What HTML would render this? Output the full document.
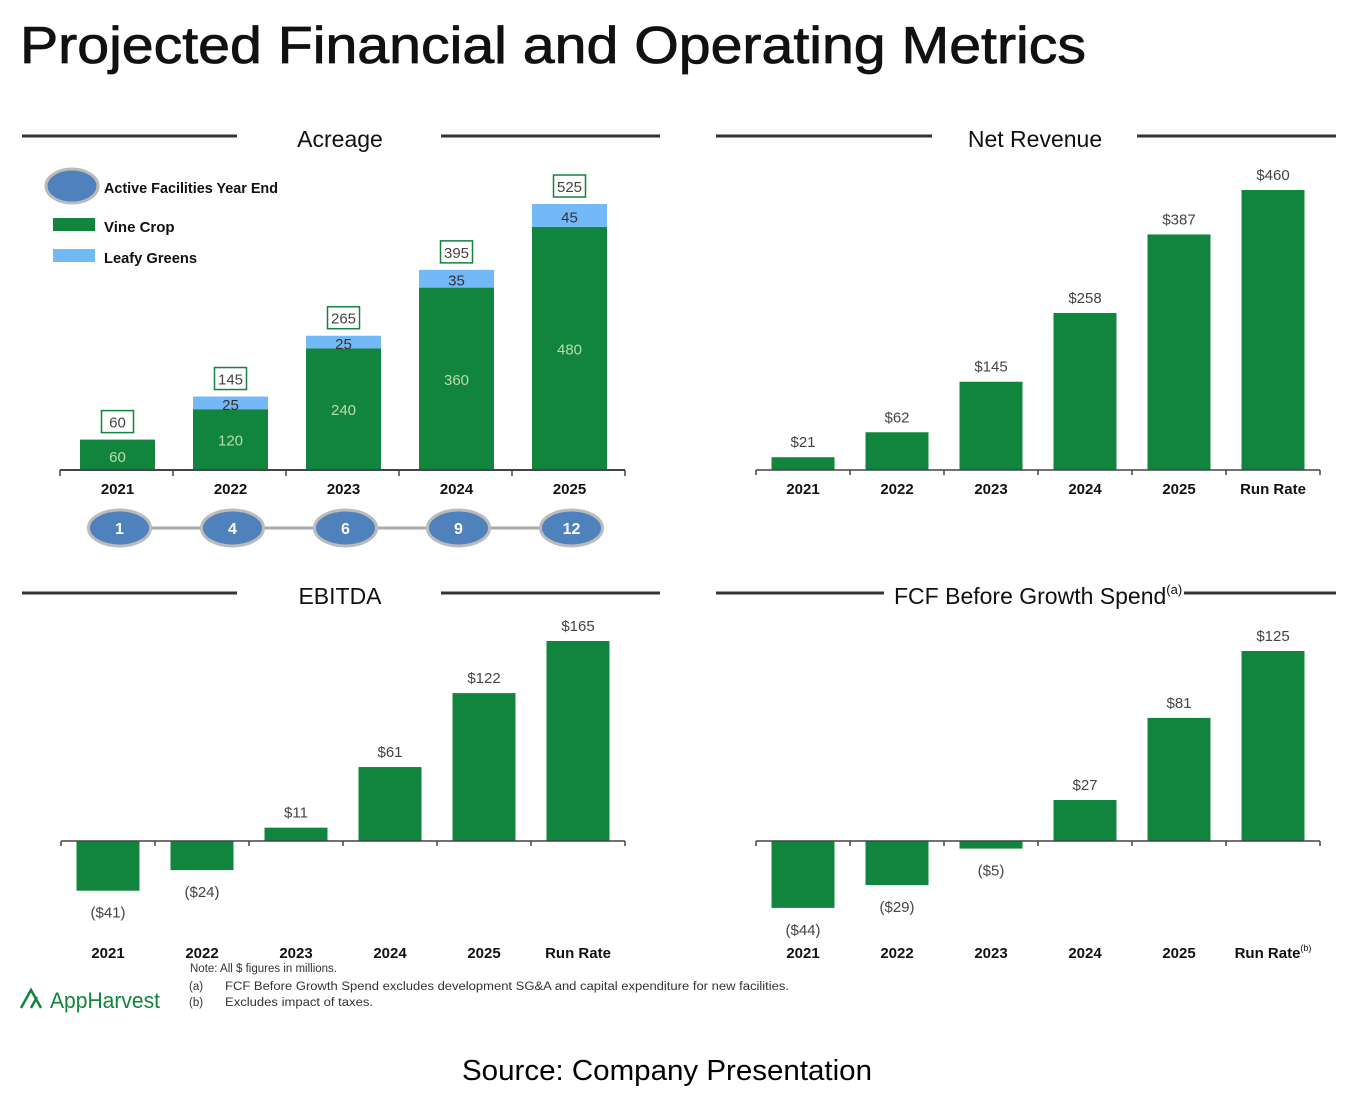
<!DOCTYPE html>
<html><head><meta charset="utf-8"><style>
html,body{margin:0;padding:0;background:#fff;}
svg{display:block;font-family:"Liberation Sans",sans-serif;}
</style></head><body>
<svg id="s" width="1358" height="1100" viewBox="0 0 1358 1100">
<text x="20" y="63" font-size="52" fill="#111" stroke="#111" stroke-width="0.8" textLength="1066" lengthAdjust="spacingAndGlyphs">Projected Financial and Operating Metrics</text>
<g>
<line x1="22" y1="136" x2="237" y2="136" stroke="#333" stroke-width="3"/><line x1="441" y1="136" x2="660" y2="136" stroke="#333" stroke-width="3"/>
<text x="340" y="147" font-size="23" text-anchor="middle" fill="#111">Acreage</text></g>
<g>
<line x1="716" y1="136" x2="932" y2="136" stroke="#333" stroke-width="3"/><line x1="1137" y1="136" x2="1336" y2="136" stroke="#333" stroke-width="3"/>
<text x="1035" y="147" font-size="23" text-anchor="middle" fill="#111">Net Revenue</text></g>
<g>
<line x1="22" y1="593" x2="237" y2="593" stroke="#333" stroke-width="3"/><line x1="441" y1="593" x2="660" y2="593" stroke="#333" stroke-width="3"/>
<text x="340" y="604" font-size="23" text-anchor="middle" fill="#111">EBITDA</text></g>
<g>
<line x1="716" y1="593" x2="884" y2="593" stroke="#333" stroke-width="3"/><line x1="1184" y1="593" x2="1336" y2="593" stroke="#333" stroke-width="3"/>
<text x="894" y="604" font-size="23" fill="#111">FCF Before Growth Spend<tspan font-size="13" dy="-10">(a)</tspan></text></g>
<g>
<ellipse cx="72" cy="186" rx="26" ry="17" fill="#4f81bd" stroke="#bbb" stroke-width="3"/>
<text x="104" y="193" font-size="15" font-weight="bold" fill="#111" textLength="174" lengthAdjust="spacingAndGlyphs">Active Facilities Year End</text>
<rect x="53" y="218" width="42" height="13" fill="#11843e"/>
<text x="104" y="232" font-size="15" font-weight="bold" fill="#111">Vine Crop</text>
<rect x="53" y="249" width="42" height="13" fill="#74b9f7"/>
<text x="104" y="263" font-size="15" font-weight="bold" fill="#111" textLength="93" lengthAdjust="spacingAndGlyphs">Leafy Greens</text></g>
<g id="charts"></g>
<g font-size="11.5" fill="#333">
<text x="190" y="972">Note: All $ figures in millions.</text>
<text x="189" y="990">(a)</text><text x="225" y="990" textLength="564" lengthAdjust="spacingAndGlyphs">FCF Before Growth Spend excludes development SG&amp;A and capital expenditure for new facilities.</text>
<text x="189" y="1006">(b)</text><text x="225" y="1006" textLength="148" lengthAdjust="spacingAndGlyphs">Excludes impact of taxes.</text></g>
<g>
<path d="M21 1008 L31 990 L41 1008 M31 1008 L37 997" stroke="#11843e" stroke-width="2.5" fill="none"/>
<text x="50" y="1008" font-size="22" fill="#11843e" textLength="110" lengthAdjust="spacingAndGlyphs">AppHarvest</text></g>
<text x="667" y="1080" font-size="29" text-anchor="middle" fill="#000" textLength="410" lengthAdjust="spacingAndGlyphs">Source: Company Presentation</text>
</svg>
<script>
const acreYears=["2021","2022","2023","2024","2025"];
const vineCrop=[60,120,240,360,480];
const leafyGreens=[0,25,25,35,45];
const acreTotals=[60,145,265,395,525];
const facilities=[1,4,6,9,12];
const finCats=["2021","2022","2023","2024","2025","Run Rate"];
const netRevenue=[21,62,145,258,387,460];
const ebitda=[-41,-24,11,61,122,165];
const fcf=[-44,-29,-5,27,81,125];
const netLabels=["$21","$62","$145","$258","$387","$460"];
const ebitdaLabels=["($41)","($24)","$11","$61","$122","$165"];
const fcfLabels=["($44)","($29)","($5)","$27","$81","$125"];

const NS="http://www.w3.org/2000/svg";
const root=document.getElementById('charts');
function mk(tag,attrs,parent,txt){const e=document.createElementNS(NS,tag);for(const k in attrs)e.setAttribute(k,attrs[k]);if(txt!==undefined)e.textContent=txt;(parent||root).appendChild(e);return e;}
const G="#11843e";

(function(){
 const g=mk('g',{});
 
 
 const x0=60,x1=625,base=470,sc=266/525,n=acreYears.length,step=(x1-x0)/n,bw=75;
 const y=v=>base-v*sc;
 acreYears.forEach((c,i)=>{
  const cx=x0+step*(i+0.5)+1;
  const r=mk('rect',{x:cx-bw/2,y:y(vineCrop[i]),width:bw,height:vineCrop[i]*sc,fill:G},g);
  
  
  mk('text',{x:cx,y:(y(vineCrop[i])+base)/2+10>base-6?base-8:(y(vineCrop[i])+base)/2+6,'font-size':15,'text-anchor':'middle',fill:'#b9dca8'},g,vineCrop[i]);
  if(leafyGreens[i]>0){
   const t=y(vineCrop[i]+leafyGreens[i]);
   const r2=mk('rect',{x:cx-bw/2,y:t,width:bw,height:leafyGreens[i]*sc,fill:'#74b9f7'},g);
   
   
   mk('text',{x:cx,y:t+leafyGreens[i]*sc/2+7,'font-size':15,'text-anchor':'middle',fill:'#333'},g,leafyGreens[i]);
  }
  const ty=y(acreTotals[i])-8;
  const b=mk('rect',{x:cx-16,y:ty-21,width:32,height:22,fill:'#fff',stroke:G,'stroke-width':1.5},g);
  
  
  mk('text',{x:cx,y:ty-4,'font-size':15,'text-anchor':'middle',fill:'#444'},g,acreTotals[i]);
  mk('text',{x:cx,y:494,'font-size':15,'font-weight':'bold','text-anchor':'middle',fill:'#111'},g,c);
  mk('line',{x1:x0+step*i,y1:base,x2:x0+step*i,y2:base+6,stroke:'#444','stroke-width':1.5},g);
 });
 mk('line',{x1:x0+step*n,y1:base,x2:x0+step*n,y2:base+6,stroke:'#444','stroke-width':1.5},g);
 mk('line',{x1:x0,y1:base,x2:x1,y2:base,stroke:'#444','stroke-width':2},g);
 mk('line',{x1:x0+step/2,y1:528,x2:x0+step*(n-0.5),y2:528,stroke:'#aaa','stroke-width':3},g);
 facilities.forEach((f,i)=>{
  const cx=x0+step*(i+0.5)+3;
  const e=mk('ellipse',{cx:cx,cy:528,rx:31,ry:18,fill:'#4f81bd',stroke:'#bbb','stroke-width':3},g);
  
  
  mk('text',{x:cx,y:534,'font-size':16,'font-weight':'bold','text-anchor':'middle',fill:'#fff'},g,f);
 });
})();

function barChart(name,vals,labels,x0,x1,base,sc,catY){
 const g=mk('g',{});
 
 
 const n=finCats.length,step=(x1-x0)/n,bw=63;
 finCats.forEach((c,i)=>{
  const cx=x0+step*(i+0.5),v=vals[i],h=Math.abs(v)*sc,top=v>=0?base-h:base;
  const r=mk('rect',{x:cx-bw/2,y:top,width:bw,height:h,fill:G},g);
  
  
  const ly=v>=0?top-10:base+h+27;
  mk('text',{x:cx,y:ly,'font-size':15,'text-anchor':'middle',fill:'#444'},g,labels[i]);
  const t=mk('text',{x:cx,y:catY,'font-size':15,'font-weight':'bold','text-anchor':'middle',fill:'#111'},g,c);
  if(name==='fcf-chart'&&c==='Run Rate'){mk('tspan',{'font-size':9,dy:-7,'font-weight':'normal'},t,'(b)');}
  mk('line',{x1:x0+step*i,y1:base,x2:x0+step*i,y2:base+5,stroke:'#444','stroke-width':1.5},g);
 });
 mk('line',{x1:x0+step*n,y1:base,x2:x0+step*n,y2:base+5,stroke:'#444','stroke-width':1.5},g);
 mk('line',{x1:x0,y1:base,x2:x1,y2:base,stroke:'#444','stroke-width':1.5},g);
}
barChart('net-revenue-chart',netRevenue,netLabels,756,1320,470,280/460,494);
barChart('ebitda-chart',ebitda,ebitdaLabels,61,625,841,200/165,958);
barChart('fcf-chart',fcf,fcfLabels,756,1320,841,190/125,958);
</script>
</body></html>
